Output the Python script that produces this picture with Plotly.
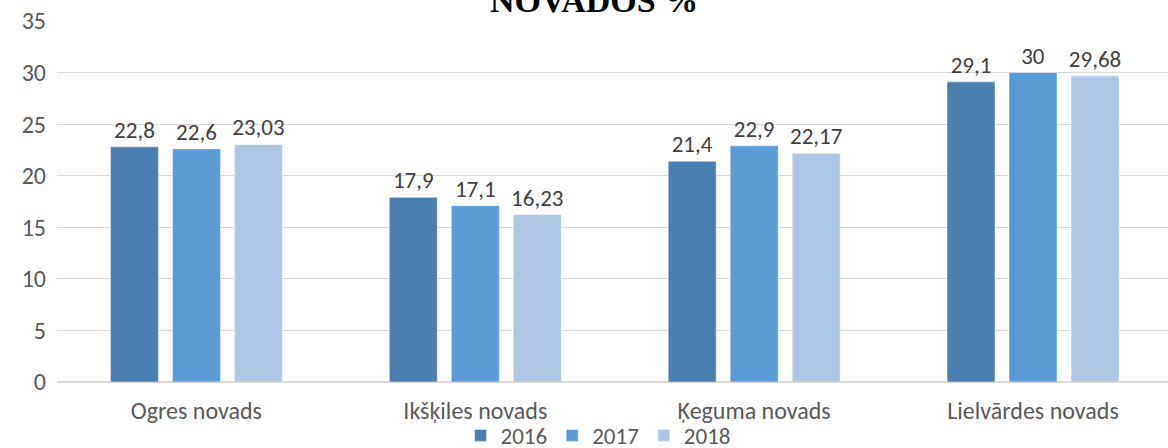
import plotly.graph_objects as go

categories = ["Ogres novads", "Ikšķiles novads", "Ķeguma novads", "Lielvārdes novads"]
years = ["2016", "2017", "2018"]
values_2016 = [22.8, 17.9, 21.4, 29.1]
values_2017 = [22.6, 17.1, 22.9, 30]
values_2018 = [23.03, 16.23, 22.17, 29.68]
colors = ["#4A7EB0", "#5B9BD5", "#ADC6E6"]
title_text = "NOVADOS %"

FONT = "Carlito, Calibri, Lato, sans-serif"

def fmt(v):
    return f"{v:g}".replace(".", ",")

fig = go.Figure()
for yr, vals, col in zip(years, [values_2016, values_2017, values_2018], colors):
    fig.add_trace(go.Bar(
        x=categories, y=vals, name=yr,
        marker=dict(color=col, line=dict(color="rgba(255,255,255,0.6)", width=0.8)),
        text=[fmt(v) for v in vals], textposition="outside", constraintext="none",
        textfont=dict(family=FONT, size=23, color="#404040"),
        cliponaxis=False,
    ))

fig.update_layout(
    width=1168, height=448,
    margin=dict(l=57, r=0, t=21, b=66, autoexpand=False),
    paper_bgcolor="white", plot_bgcolor="white",
    barmode="group", bargap=0.333, bargroupgap=0.226,
    font=dict(family=FONT, size=24, color="#595959"),
    showlegend=True,
    legend=dict(orientation="h", x=0.487, xanchor="center", y=-0.148, yanchor="middle",
                bgcolor="rgba(0,0,0,0)",
                font=dict(family=FONT, size=23, color="#595959"),
                itemwidth=30, traceorder="normal"),
    xaxis=dict(range=[-0.5, 3.484], showgrid=False, showline=False, zeroline=False,
               automargin=False,
               tickfont=dict(family=FONT, size=24, color="#595959"),
               ticklabelstandoff=12),
    yaxis=dict(range=[0, 35], dtick=5, showgrid=True, gridcolor="#D9D9D9", gridwidth=1,
               automargin=False,
               zeroline=True, zerolinecolor="#D9D9D9", zerolinewidth=1.5, showline=False,
               tickfont=dict(family=FONT, size=24, color="#595959"),
               ticklabelstandoff=10),
)

fig.add_annotation(
    text="<b>" + title_text + "</b>", xref="paper", yref="paper",
    x=(594 - 57) / 1111, y=1.0, xanchor="center", yanchor="bottom",
    showarrow=False, font=dict(family="Liberation Serif, Times New Roman, serif", size=34, color="black"),
)

fig.write_html("out.html", config={"displayModeBar": False},
               post_script="document.body.style.margin='0';document.body.style.overflow='hidden';")
